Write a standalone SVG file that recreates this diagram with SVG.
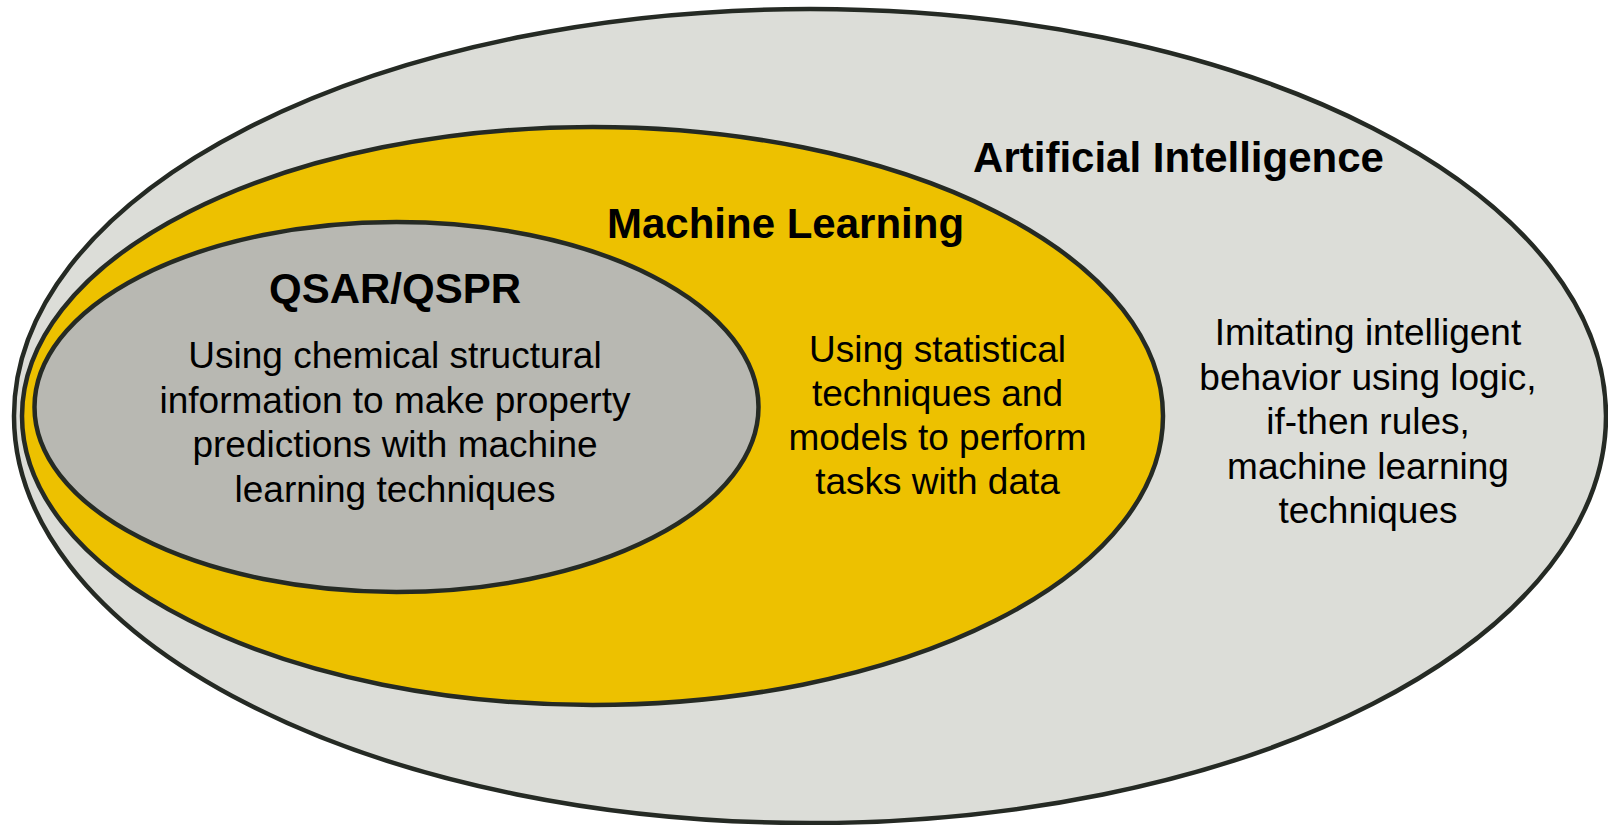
<svg xmlns="http://www.w3.org/2000/svg" width="1608" height="825" viewBox="0 0 1608 825">
<style>
.ell{stroke:#252a24;stroke-width:4.5}
.title{font-family:"Liberation Sans",Arial,sans-serif;font-weight:bold;font-size:42px;fill:#000;text-anchor:middle}
.body{font-family:"Liberation Sans",Arial,sans-serif;font-size:37px;fill:#000;text-anchor:middle}
</style>
<rect width="1608" height="825" fill="#ffffff"/>
<g id="ai">
<ellipse class="ell" cx="810" cy="416" rx="796" ry="407" fill="#dcddd8"/>
<text class="title" x="1178.5" y="172">Artificial Intelligence</text>
<text class="body" x="1368" y="345">Imitating intelligent</text>
<text class="body" x="1368" y="389.5">behavior using logic,</text>
<text class="body" x="1368" y="434">if-then rules,</text>
<text class="body" x="1368" y="478.5">machine learning</text>
<text class="body" x="1368" y="523">techniques</text>
</g>
<g id="ml">
<ellipse class="ell" cx="592.5" cy="416" rx="570.5" ry="289" fill="#edc100"/>
<text class="title" x="785.5" y="238">Machine Learning</text>
<text class="body" x="937.5" y="362">Using statistical</text>
<text class="body" x="937.5" y="406">techniques and</text>
<text class="body" x="937.5" y="450">models to perform</text>
<text class="body" x="937.5" y="494">tasks with data</text>
</g>
<g id="qsar">
<ellipse class="ell" cx="396.5" cy="407" rx="362" ry="185" fill="#b8b8b2"/>
<text class="title" x="395" y="303">QSAR/QSPR</text>
<text class="body" x="395" y="368">Using chemical structural</text>
<text class="body" x="395" y="412.5">information to make property</text>
<text class="body" x="395" y="457">predictions with machine</text>
<text class="body" x="395" y="501.5">learning techniques</text>
</g>
<g id="connectors"></g>
</svg>
